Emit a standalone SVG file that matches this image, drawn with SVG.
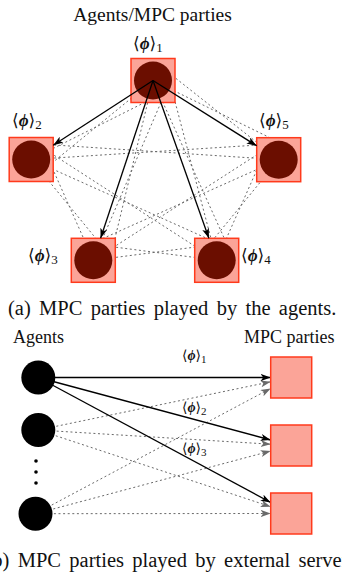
<svg xmlns="http://www.w3.org/2000/svg" width="342" height="575" viewBox="0 0 342 575">
  <style>
    text { font-family: 'Liberation Serif', 'Times New Roman', Times, 'DejaVu Serif', 'Noto Serif', serif; fill: #111; }
    .title { font-size: 19.5px; }
    .cap { font-size: 20.5px; }
    .hdr { font-size: 18px; }
    .lbl { font-size: 17px; }
    .lbl2 { font-size: 14px; }
    .phi { font-style: italic; font-weight: bold; }
    .party { fill: #fba498; stroke: #ff3a1c; stroke-width: 1.5; }
    .agent { fill: #6b0e00; }
    .ext { fill: #000; }
    .dash { stroke: #6a6a6a; stroke-width: 1; stroke-dasharray: 2 2.6; fill: none; }
    .solid { stroke: #000; stroke-width: 1.3; fill: none; }
  </style>
  <defs>
    <marker id="head" markerUnits="userSpaceOnUse" markerWidth="11" markerHeight="8" refX="10" refY="3.5" orient="auto">
      <path d="M0,0 L10,3.5 L0,7 L2.5,3.5 Z" fill="#000"/>
    </marker>
    <marker id="headGray" markerUnits="userSpaceOnUse" markerWidth="11" markerHeight="8" refX="10" refY="3.5" orient="auto">
      <path d="M0,0 L10,3.5 L0,7 L2.5,3.5 Z" fill="#6a6a6a"/>
    </marker>
  </defs>

  <!-- (a) parties played by the agents -->
  <text class="title" x="152.5" y="21" text-anchor="middle">Agents/MPC parties</text>

  <g id="mesh-a">
    <!-- two dashed links per pair of parties -->
    <line class="dash" x1="161.7" y1="93.9" x2="31.2" y2="159.5"/>
    <line class="dash" x1="153" y1="80.5" x2="39.9" y2="172.9"/>
    <line class="dash" x1="168.2" y1="85.5" x2="93.3" y2="260.3"/>
    <line class="dash" x1="153" y1="80.5" x2="108.5" y2="265.3"/>
    <line class="dash" x1="168.1" y1="75.2" x2="216.7" y2="260.3"/>
    <line class="dash" x1="153" y1="80.5" x2="231.8" y2="255"/>
    <line class="dash" x1="161.5" y1="67" x2="278.7" y2="159.7"/>
    <line class="dash" x1="153" y1="80.5" x2="287.2" y2="146.2"/>
    <line class="dash" x1="44.8" y1="151.1" x2="93.3" y2="260.3"/>
    <line class="dash" x1="31.2" y1="159.5" x2="106.9" y2="251.9"/>
    <line class="dash" x1="38.8" y1="145.4" x2="216.7" y2="260.3"/>
    <line class="dash" x1="31.2" y1="159.5" x2="224.3" y2="246.2"/>
    <line class="dash" x1="31.2" y1="143.5" x2="278.7" y2="159.7"/>
    <line class="dash" x1="31.2" y1="159.5" x2="278.7" y2="143.7"/>
    <line class="dash" x1="93.3" y1="244.3" x2="216.7" y2="260.3"/>
    <line class="dash" x1="93.3" y1="260.3" x2="216.7" y2="244.3"/>
    <line class="dash" x1="85.7" y1="246.2" x2="278.7" y2="159.7"/>
    <line class="dash" x1="93.3" y1="260.3" x2="271.1" y2="145.6"/>
    <line class="dash" x1="203.1" y1="251.9" x2="278.7" y2="159.7"/>
    <line class="dash" x1="216.7" y1="260.3" x2="265.1" y2="151.3"/>
  </g>

  <g id="p1">
    <rect class="party" x="131" y="58.5" width="44" height="44"/>
    <circle class="agent" cx="153" cy="80.5" r="19"/>
    <text class="lbl" x="133" y="49"><tspan>⟨</tspan><tspan class="phi">ϕ</tspan><tspan>⟩</tspan><tspan font-size="13" dy="3">1</tspan></text>
  </g>
  <g id="p2">
    <rect class="party" x="9.2" y="137.5" width="44" height="44"/>
    <circle class="agent" cx="31.2" cy="159.5" r="19"/>
    <text class="lbl" x="12" y="126"><tspan>⟨</tspan><tspan class="phi">ϕ</tspan><tspan>⟩</tspan><tspan font-size="13" dy="3">2</tspan></text>
  </g>
  <g id="p5">
    <rect class="party" x="256.7" y="137.7" width="44" height="44"/>
    <circle class="agent" cx="278.7" cy="159.7" r="19"/>
    <text class="lbl" x="259" y="126"><tspan>⟨</tspan><tspan class="phi">ϕ</tspan><tspan>⟩</tspan><tspan font-size="13" dy="3">5</tspan></text>
  </g>
  <g id="p3">
    <rect class="party" x="71.3" y="238.3" width="44" height="44"/>
    <circle class="agent" cx="93.3" cy="260.3" r="19"/>
    <text class="lbl" x="28" y="261"><tspan>⟨</tspan><tspan class="phi">ϕ</tspan><tspan>⟩</tspan><tspan font-size="13" dy="3">3</tspan></text>
  </g>
  <g id="p4">
    <rect class="party" x="194.7" y="238.3" width="44" height="44"/>
    <circle class="agent" cx="216.7" cy="260.3" r="19"/>
    <text class="lbl" x="241" y="261"><tspan>⟨</tspan><tspan class="phi">ϕ</tspan><tspan>⟩</tspan><tspan font-size="13" dy="3">4</tspan></text>
  </g>

  <g id="shares-a">
    <line class="solid" x1="153" y1="80.5" x2="53.2" y2="145.2" marker-end="url(#head)"/>
    <line class="solid" x1="153" y1="80.5" x2="100.6" y2="238.3" marker-end="url(#head)"/>
    <line class="solid" x1="153" y1="80.5" x2="208.9" y2="238.3" marker-end="url(#head)"/>
    <line class="solid" x1="153" y1="80.5" x2="256.7" y2="145.8" marker-end="url(#head)"/>
  </g>

  <text class="cap" x="8" y="315" word-spacing="3.2">(a) MPC parties played by the agents.</text>

  <!-- (b) parties played by external servers -->
  <text class="hdr" x="13" y="343">Agents</text>
  <text class="hdr" x="244" y="343">MPC parties</text>

  <g id="links-b">
    <line class="dash" x1="38.3" y1="430" x2="270.7" y2="381.8" marker-end="url(#headGray)"/>
    <line class="dash" x1="38.3" y1="430" x2="270.7" y2="444.2" marker-end="url(#headGray)"/>
    <line class="dash" x1="38.3" y1="430" x2="270.7" y2="506.7" marker-end="url(#headGray)"/>
    <line class="dash" x1="35.5" y1="513.7" x2="270.7" y2="388.4" marker-end="url(#headGray)"/>
    <line class="dash" x1="35.5" y1="513.7" x2="270.7" y2="451" marker-end="url(#headGray)"/>
    <line class="dash" x1="35.5" y1="513.7" x2="270.7" y2="513.5" marker-end="url(#headGray)"/>
    <line class="solid" x1="38.3" y1="377.5" x2="270.7" y2="377.5" marker-end="url(#head)"/>
    <line class="solid" x1="38.3" y1="377.5" x2="270.7" y2="440" marker-end="url(#head)"/>
    <line class="solid" x1="38.3" y1="377.5" x2="270.7" y2="502.5" marker-end="url(#head)"/>
  </g>

  <text class="lbl2" x="182" y="360"><tspan>⟨</tspan><tspan class="phi">ϕ</tspan><tspan>⟩</tspan><tspan font-size="11" dy="2.5">1</tspan></text>
  <text class="lbl2" x="182" y="412"><tspan>⟨</tspan><tspan class="phi">ϕ</tspan><tspan>⟩</tspan><tspan font-size="11" dy="2.5">2</tspan></text>
  <text class="lbl2" x="182" y="453"><tspan>⟨</tspan><tspan class="phi">ϕ</tspan><tspan>⟩</tspan><tspan font-size="11" dy="2.5">3</tspan></text>

  <g id="agent-1"><circle class="ext" cx="38.3" cy="377.5" r="17"/></g>
  <g id="agent-2"><circle class="ext" cx="38.3" cy="430" r="17"/></g>
  <g id="agent-more">
    <circle class="ext" cx="36" cy="461" r="1.8"/>
    <circle class="ext" cx="36" cy="472" r="1.8"/>
    <circle class="ext" cx="36" cy="483" r="1.8"/>
  </g>
  <g id="agent-n"><circle class="ext" cx="35.5" cy="513.7" r="17"/></g>

  <g id="server-1"><rect class="party" x="270.7" y="357" width="41" height="41"/></g>
  <g id="server-2"><rect class="party" x="270.7" y="425" width="41" height="41"/></g>
  <g id="server-3"><rect class="party" x="270.7" y="493" width="41" height="41"/></g>

  <text class="cap" x="-14.5" y="567" word-spacing="3.2">(b) MPC parties played by external servers.</text>
</svg>
